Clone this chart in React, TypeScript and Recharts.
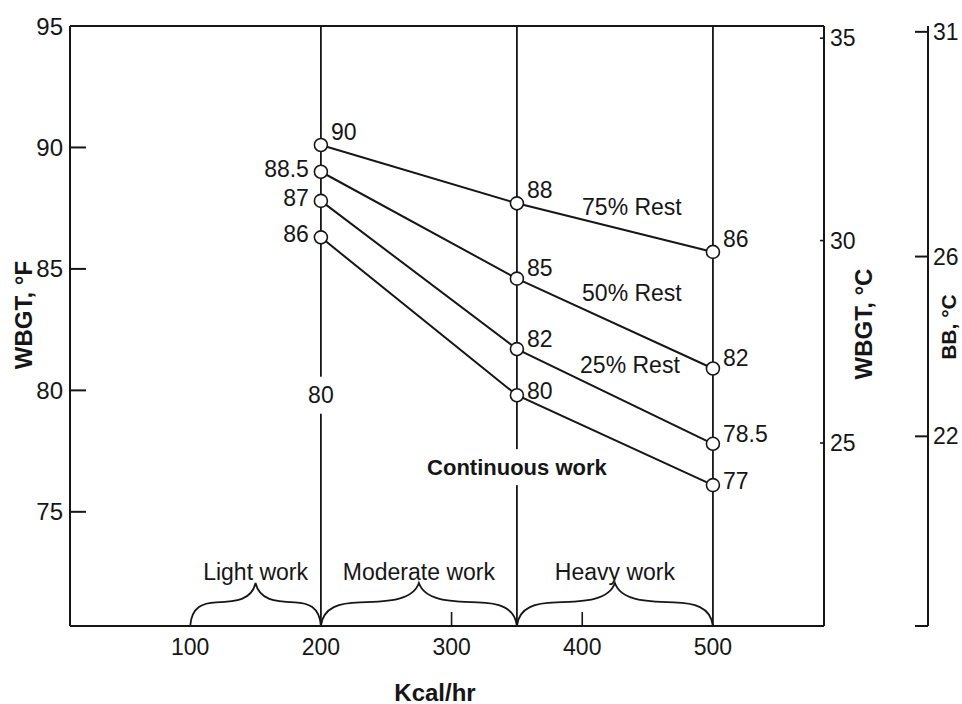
import React from 'react';
import {
  LineChart,
  Line,
  XAxis,
  YAxis,
  ReferenceLine,
  ReferenceArea,
  ReferenceDot,
  LabelList,
} from 'recharts';

// Kcal/hr columns where the work/rest curves are read
const kcal = [200, 350, 500];

// WBGT (°F) as plotted
const rest75 = [90.1, 87.7, 85.7];
const rest50 = [89.0, 84.6, 80.9];
const rest25 = [87.8, 81.7, 77.8];
const continuous = [86.3, 79.8, 76.1];

// numbers printed next to each point
const rest75Labels = ['90', '88', '86'];
const rest50Labels = ['88.5', '85', '82'];
const rest25Labels = ['87', '82', '78.5'];
const continuousLabels = ['86', '80', '77'];

const xTicks = [100, 200, 300, 400, 500];
const xTickMarks = [300, 400];
const fTicks = [75, 80, 85, 90, 95];
const cTicks = [25, 30, 35];
const bbTicks = [22, 26, 31];
const dividers = [200, 350, 500];

const X_DOMAIN = [8, 585];
const F_DOMAIN = [70.3, 95];
const C_DOMAIN = [20.48, 35.3];
const BB_DOMAIN = [17.78, 31.13];

const bandNames = ['Light work', 'Moderate work', 'Heavy work'];
const bandFrom = [100, 200, 350];
const bandTo = [200, 350, 500];
const BRACE_TOP = 72.07;

const noteTexts = ['75% Rest', '50% Rest', '25% Rest'];
const noteX = [438, 438, 436.5];
const noteY = [87.55, 84.0, 81.04];

const INK = '#161616';
const FONT = '"Liberation Sans", Arial, Helvetica, sans-serif';

const data = kcal.map((k, i) => ({
  kcal: k,
  rest75: rest75[i],
  rest50: rest50[i],
  rest25: rest25[i],
  continuous: continuous[i],
  rest75Label: rest75Labels[i],
  rest50Label: rest50Labels[i],
  rest25Label: rest25Labels[i],
  continuousLabel: continuousLabels[i],
}));

const pointXY = (p: any) => {
  const vb = p.viewBox || {};
  const x = typeof p.x === 'number' ? p.x : vb.x;
  const y = typeof p.y === 'number' ? p.y : vb.y;
  return { x, y };
};

// first column labels sit left of the point (except 75% rest), the rest up-right
const makePointLabel = (leftFirst: boolean, dy: number) => (props: any) => {
  const { x, y } = pointXY(props);
  if (x == null || y == null) return null;
  const left = leftFirst && props.index === 0;
  return (
    <text
      x={left ? x - 12 : x + 10}
      y={left ? y - 3 : y + dy}
      textAnchor={left ? 'end' : 'start'}
      dominantBaseline="central"
      fontSize={23}
      fontFamily={FONT}
      fill={INK}
    >
      {props.value}
    </text>
  );
};

const AxisTitle = (props: any) => {
  const { viewBox, text, dx, dy, rotate, size = 24 } = props;
  if (!viewBox) return null;
  const cx = viewBox.x + (rotate ? dx : viewBox.width / 2 + dx);
  const cy = rotate ? viewBox.y + viewBox.height / 2 + dy : viewBox.y + dy;
  return (
    <text
      x={cx}
      y={cy}
      transform={rotate ? `rotate(-90 ${cx} ${cy})` : undefined}
      textAnchor="middle"
      dominantBaseline="central"
      fontSize={size}
      fontWeight="bold"
      fontFamily={FONT}
      fill={INK}
    >
      {text}
    </text>
  );
};

const FTick = (props: any) => {
  const { x, y, payload } = props;
  return (
    <g>
      <line x1={x} x2={x + 16} y1={y} y2={y} stroke={INK} strokeWidth={2} />
      <text x={x - 7} y={y} textAnchor="end" dominantBaseline="central" fontSize={24} fontFamily={FONT} fill={INK}>
        {payload.value}
      </text>
    </g>
  );
};

const XTick = (props: any) => {
  const { x, y, payload } = props;
  return (
    <g>
      {xTickMarks.includes(payload.value) && (
        <line x1={x} x2={x} y1={y} y2={y - 14} stroke={INK} strokeWidth={1.6} />
      )}
      <text x={x} y={y + 21} textAnchor="middle" dominantBaseline="central" fontSize={23} fontFamily={FONT} fill={INK}>
        {payload.value}
      </text>
    </g>
  );
};

const CTick = (props: any) => {
  const { x, y, payload } = props;
  return (
    <g>
      <line x1={x} x2={x - 4} y1={y} y2={y} stroke={INK} strokeWidth={1.6} />
      <text x={x + 6} y={y} textAnchor="start" dominantBaseline="central" fontSize={23} fontFamily={FONT} fill={INK}>
        {payload.value}
      </text>
    </g>
  );
};

const BBTick = (props: any) => {
  const { x, y, payload } = props;
  return (
    <g>
      <line x1={x} x2={x - 13} y1={y} y2={y} stroke={INK} strokeWidth={2} />
      {payload.value !== BB_DOMAIN[0] && (
        <text x={x + 5} y={y} textAnchor="start" dominantBaseline="central" fontSize={23} fontFamily={FONT} fill={INK}>
          {payload.value}
        </text>
      )}
    </g>
  );
};

const Brace = (props: any) => {
  const { x, y, width: w, height: H, name } = props;
  if (x == null) return null;
  const p = (fx: number, fy: number) => `${x + fx * w},${y + fy * H}`;
  const d =
    `M${p(0, 1)} C${p(0.01, 0.55)} ${p(0.1, 0.46)} ${p(0.2, 0.45)} ` +
    `C${p(0.35, 0.43)} ${p(0.47, 0.4)} ${p(0.5, 0)} ` +
    `C${p(0.53, 0.4)} ${p(0.65, 0.43)} ${p(0.8, 0.45)} ` +
    `C${p(0.9, 0.46)} ${p(0.99, 0.55)} ${p(1, 1)}`;
  return (
    <g>
      <path d={d} fill="none" stroke={INK} strokeWidth={1.8} />
      <text x={x + w / 2} y={y - 11} textAnchor="middle" dominantBaseline="central" fontSize={23} fontFamily={FONT} fill={INK}>
        {name}
      </text>
    </g>
  );
};

const Note = (props: any) => {
  const { cx, cy, text, bold, boxW, boxH } = props;
  if (cx == null) return null;
  return (
    <g>
      {boxW ? <rect x={cx - boxW / 2} y={cy - boxH / 2} width={boxW} height={boxH} fill="#fff" /> : null}
      <text
        x={cx}
        y={cy}
        textAnchor="middle"
        dominantBaseline="central"
        fontSize={bold ? 22 : 23}
        fontWeight={bold ? 'bold' : 'normal'}
        fontFamily={FONT}
        fill={INK}
      >
        {text}
      </text>
    </g>
  );
};

const dotStyle = { r: 6.5, fill: '#fff', stroke: INK, strokeWidth: 1.6 };

export default function App() {
  return (
    <div style={{ position: 'absolute', left: 0, top: 0, background: '#fff' }}>
      <LineChart
        width={962}
        height={704}
        data={data}
        margin={{ top: 26, right: 0, bottom: 0, left: 0 }}
        style={{ fontFamily: FONT }}
      >
        <XAxis
          dataKey="kcal"
          type="number"
          domain={X_DOMAIN}
          ticks={xTicks}
          interval={0}
          allowDataOverflow
          height={78}
          tickSize={0}
          tickMargin={0}
          tickLine={false}
          axisLine={{ stroke: INK, strokeWidth: 2 }}
          tick={<XTick />}
          label={<AxisTitle text="Kcal/hr" dx={-12} dy={66} />}
        />
        <YAxis
          yAxisId="f"
          type="number"
          domain={F_DOMAIN}
          ticks={fTicks}
          interval={0}
          allowDataOverflow
          width={70}
          tickSize={0}
          tickMargin={0}
          tickLine={false}
          axisLine={{ stroke: INK, strokeWidth: 2 }}
          tick={<FTick />}
          label={<AxisTitle text="WBGT, °F" rotate dx={23} dy={-11} />}
        />
        <YAxis
          yAxisId="r1"
          orientation="right"
          type="number"
          domain={C_DOMAIN}
          ticks={cTicks}
          interval={0}
          allowDataOverflow
          width={104}
          tickSize={0}
          tickMargin={0}
          tickLine={false}
          axisLine={{ stroke: INK, strokeWidth: 2 }}
          tick={<CTick />}
          label={<AxisTitle text="WBGT, °C" rotate dx={39} dy={-2} />}
        />
        <YAxis
          yAxisId="r2"
          orientation="right"
          type="number"
          domain={BB_DOMAIN}
          ticks={[BB_DOMAIN[0], ...bbTicks]}
          interval={0}
          allowDataOverflow
          width={34}
          tickSize={0}
          tickMargin={0}
          tickLine={false}
          axisLine={{ stroke: INK, strokeWidth: 2 }}
          tick={<BBTick />}
          label={<AxisTitle text="BB, °C" rotate size={21} dx={20} dy={1} />}
        />

        <ReferenceLine yAxisId="f" y={F_DOMAIN[1]} stroke={INK} strokeWidth={2} />
        {dividers.map((d) => (
          <ReferenceLine key={d} yAxisId="f" x={d} stroke={INK} strokeWidth={1.8} />
        ))}
        {bandNames.map((name, i) => (
          <ReferenceArea
            key={name}
            yAxisId="f"
            x1={bandFrom[i]}
            x2={bandTo[i]}
            y1={F_DOMAIN[0]}
            y2={BRACE_TOP}
            shape={(p: any) => <Brace {...p} name={name} />}
          />
        ))}
        <ReferenceDot
          yAxisId="f"
          x={200}
          y={79.8}
          r={1}
          shape={(p: any) => <Note {...p} text="80" boxW={28} boxH={37} />}
        />
        <ReferenceDot
          yAxisId="f"
          x={350}
          y={76.84}
          r={1}
          shape={(p: any) => <Note {...p} text="Continuous work" bold boxW={190} boxH={36} />}
        />
        {noteTexts.map((t, i) => (
          <ReferenceDot
            key={t}
            yAxisId="f"
            x={noteX[i]}
            y={noteY[i]}
            r={1}
            shape={(p: any) => <Note {...p} text={t} />}
          />
        ))}

        <Line yAxisId="f" type="linear" dataKey="rest75" stroke={INK} strokeWidth={2} dot={dotStyle} activeDot={false} isAnimationActive={false}>
          <LabelList dataKey="rest75Label" content={makePointLabel(false, -13)} />
        </Line>
        <Line yAxisId="f" type="linear" dataKey="rest50" stroke={INK} strokeWidth={2} dot={dotStyle} activeDot={false} isAnimationActive={false}>
          <LabelList dataKey="rest50Label" content={makePointLabel(true, -11)} />
        </Line>
        <Line yAxisId="f" type="linear" dataKey="rest25" stroke={INK} strokeWidth={2} dot={dotStyle} activeDot={false} isAnimationActive={false}>
          <LabelList dataKey="rest25Label" content={makePointLabel(true, -10)} />
        </Line>
        <Line yAxisId="f" type="linear" dataKey="continuous" stroke={INK} strokeWidth={2} dot={dotStyle} activeDot={false} isAnimationActive={false}>
          <LabelList dataKey="continuousLabel" content={makePointLabel(true, -4)} />
        </Line>
      </LineChart>
    </div>
  );
}
